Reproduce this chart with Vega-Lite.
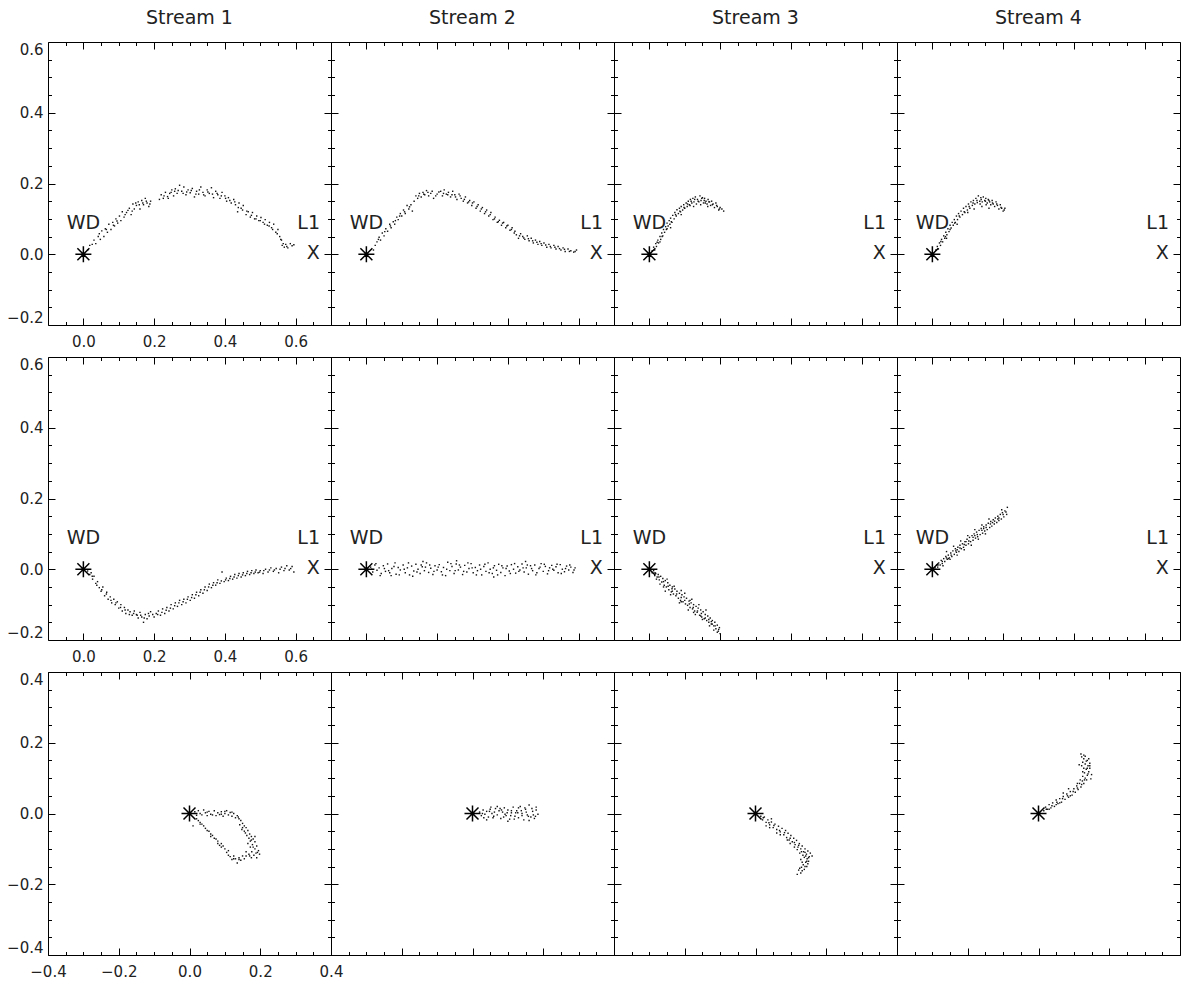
{
"$schema":"https://vega.github.io/schema/vega-lite/v6.json",
"padding":{"left":6,"top":8,"right":0,"bottom":0},
"background":"white",
"columns":4,
"spacing":{"row":32,"column":0},
"bounds":"flush",
"datasets":{
"wd":[{"x":0,"y":0}],
"lab":[{"x":0,"y":0.089,"t":"WD"},{"x":0.637,"y":0.089,"t":"L1"},{"x":0.65,"y":0.004,"t":"X"}],
"r1s1":[{"x":0.012,"y":0.012},{"x":0.018,"y":0.025},{"x":0.025,"y":0.028},{"x":0.03,"y":0.04},{"x":0.035,"y":0.03},{"x":0.042,"y":0.05},{"x":0.048,"y":0.042},{"x":0.052,"y":0.066},{"x":0.058,"y":0.05},{"x":0.062,"y":0.072},{"x":0.068,"y":0.062},{"x":0.072,"y":0.085},{"x":0.078,"y":0.07},{"x":0.083,"y":0.09},{"x":0.088,"y":0.08},{"x":0.092,"y":0.1},{"x":0.097,"y":0.088},{"x":0.102,"y":0.108},{"x":0.106,"y":0.095},{"x":0.11,"y":0.12},{"x":0.115,"y":0.105},{"x":0.122,"y":0.118},{"x":0.13,"y":0.13},{"x":0.135,"y":0.112},{"x":0.14,"y":0.142},{"x":0.144,"y":0.128},{"x":0.15,"y":0.138},{"x":0.155,"y":0.148},{"x":0.16,"y":0.128},{"x":0.165,"y":0.152},{"x":0.17,"y":0.14},{"x":0.175,"y":0.158},{"x":0.18,"y":0.145},{"x":0.185,"y":0.135},{"x":0.19,"y":0.15},{"x":0.215,"y":0.155},{"x":0.22,"y":0.168},{"x":0.226,"y":0.158},{"x":0.232,"y":0.175},{"x":0.238,"y":0.163},{"x":0.244,"y":0.172},{"x":0.25,"y":0.182},{"x":0.255,"y":0.165},{"x":0.26,"y":0.185},{"x":0.265,"y":0.172},{"x":0.272,"y":0.195},{"x":0.278,"y":0.178},{"x":0.284,"y":0.19},{"x":0.29,"y":0.168},{"x":0.296,"y":0.182},{"x":0.302,"y":0.174},{"x":0.308,"y":0.186},{"x":0.314,"y":0.162},{"x":0.32,"y":0.178},{"x":0.326,"y":0.17},{"x":0.332,"y":0.19},{"x":0.338,"y":0.175},{"x":0.344,"y":0.165},{"x":0.35,"y":0.182},{"x":0.356,"y":0.172},{"x":0.362,"y":0.188},{"x":0.368,"y":0.16},{"x":0.374,"y":0.178},{"x":0.38,"y":0.168},{"x":0.386,"y":0.158},{"x":0.392,"y":0.175},{"x":0.4,"y":0.165},{"x":0.405,"y":0.15},{"x":0.41,"y":0.16},{"x":0.418,"y":0.145},{"x":0.425,"y":0.155},{"x":0.43,"y":0.14},{"x":0.436,"y":0.12},{"x":0.44,"y":0.145},{"x":0.446,"y":0.13},{"x":0.452,"y":0.138},{"x":0.46,"y":0.112},{"x":0.466,"y":0.12},{"x":0.472,"y":0.105},{"x":0.478,"y":0.118},{"x":0.484,"y":0.1},{"x":0.49,"y":0.108},{"x":0.496,"y":0.095},{"x":0.502,"y":0.104},{"x":0.508,"y":0.09},{"x":0.514,"y":0.098},{"x":0.52,"y":0.082},{"x":0.526,"y":0.09},{"x":0.532,"y":0.075},{"x":0.538,"y":0.085},{"x":0.544,"y":0.062},{"x":0.55,"y":0.07},{"x":0.555,"y":0.05},{"x":0.56,"y":0.04},{"x":0.565,"y":0.03},{"x":0.568,"y":0.02},{"x":0.572,"y":0.028},{"x":0.578,"y":0.018},{"x":0.585,"y":0.03},{"x":0.595,"y":0.027},{"x":0.045,"y":0.058},{"x":0.065,"y":0.07},{"x":0.085,"y":0.082},{"x":0.095,"y":0.094},{"x":0.118,"y":0.112},{"x":0.126,"y":0.124},{"x":0.138,"y":0.122},{"x":0.148,"y":0.145},{"x":0.158,"y":0.14},{"x":0.168,"y":0.145},{"x":0.178,"y":0.15},{"x":0.188,"y":0.142},{"x":0.228,"y":0.165},{"x":0.24,"y":0.158},{"x":0.248,"y":0.175},{"x":0.258,"y":0.178},{"x":0.268,"y":0.18},{"x":0.282,"y":0.172},{"x":0.292,"y":0.176},{"x":0.305,"y":0.18},{"x":0.318,"y":0.17},{"x":0.328,"y":0.182},{"x":0.34,"y":0.168},{"x":0.352,"y":0.176},{"x":0.365,"y":0.17},{"x":0.378,"y":0.172},{"x":0.39,"y":0.165},{"x":0.402,"y":0.158},{"x":0.414,"y":0.152},{"x":0.428,"y":0.148},{"x":0.438,"y":0.132},{"x":0.45,"y":0.125},{"x":0.462,"y":0.122},{"x":0.475,"y":0.11},{"x":0.488,"y":0.1},{"x":0.5,"y":0.095},{"x":0.512,"y":0.085},{"x":0.525,"y":0.08},{"x":0.535,"y":0.07},{"x":0.548,"y":0.058},{"x":0.558,"y":0.042},{"x":0.562,"y":0.025},{"x":0.575,"y":0.022},{"x":0.59,"y":0.024}],
"r1s2":[{"x":0.02,"y":0.012},{"x":0.025,"y":0.025},{"x":0.03,"y":0.035},{"x":0.036,"y":0.048},{"x":0.04,"y":0.04},{"x":0.045,"y":0.06},{"x":0.05,"y":0.052},{"x":0.055,"y":0.072},{"x":0.06,"y":0.065},{"x":0.066,"y":0.085},{"x":0.07,"y":0.075},{"x":0.076,"y":0.092},{"x":0.08,"y":0.085},{"x":0.086,"y":0.105},{"x":0.09,"y":0.098},{"x":0.096,"y":0.115},{"x":0.1,"y":0.108},{"x":0.105,"y":0.125},{"x":0.11,"y":0.115},{"x":0.115,"y":0.138},{"x":0.12,"y":0.128},{"x":0.126,"y":0.14},{"x":0.13,"y":0.122},{"x":0.14,"y":0.165},{"x":0.145,"y":0.158},{"x":0.15,"y":0.172},{"x":0.155,"y":0.162},{"x":0.16,"y":0.175},{"x":0.165,"y":0.168},{"x":0.17,"y":0.18},{"x":0.176,"y":0.165},{"x":0.182,"y":0.172},{"x":0.19,"y":0.158},{"x":0.2,"y":0.17},{"x":0.21,"y":0.178},{"x":0.215,"y":0.165},{"x":0.22,"y":0.182},{"x":0.226,"y":0.17},{"x":0.232,"y":0.175},{"x":0.238,"y":0.162},{"x":0.244,"y":0.178},{"x":0.25,"y":0.168},{"x":0.256,"y":0.155},{"x":0.262,"y":0.17},{"x":0.268,"y":0.158},{"x":0.274,"y":0.15},{"x":0.28,"y":0.162},{"x":0.286,"y":0.145},{"x":0.292,"y":0.152},{"x":0.298,"y":0.138},{"x":0.304,"y":0.148},{"x":0.31,"y":0.13},{"x":0.316,"y":0.14},{"x":0.322,"y":0.122},{"x":0.328,"y":0.132},{"x":0.334,"y":0.115},{"x":0.34,"y":0.125},{"x":0.346,"y":0.108},{"x":0.352,"y":0.118},{"x":0.358,"y":0.098},{"x":0.364,"y":0.105},{"x":0.37,"y":0.09},{"x":0.376,"y":0.096},{"x":0.382,"y":0.082},{"x":0.388,"y":0.09},{"x":0.394,"y":0.075},{"x":0.4,"y":0.082},{"x":0.406,"y":0.068},{"x":0.412,"y":0.075},{"x":0.418,"y":0.06},{"x":0.424,"y":0.055},{"x":0.43,"y":0.045},{"x":0.436,"y":0.058},{"x":0.442,"y":0.05},{"x":0.448,"y":0.042},{"x":0.455,"y":0.052},{"x":0.46,"y":0.038},{"x":0.466,"y":0.045},{"x":0.472,"y":0.032},{"x":0.478,"y":0.04},{"x":0.485,"y":0.028},{"x":0.49,"y":0.036},{"x":0.496,"y":0.025},{"x":0.502,"y":0.032},{"x":0.51,"y":0.02},{"x":0.516,"y":0.028},{"x":0.522,"y":0.018},{"x":0.53,"y":0.025},{"x":0.536,"y":0.015},{"x":0.542,"y":0.022},{"x":0.55,"y":0.012},{"x":0.556,"y":0.018},{"x":0.562,"y":0.008},{"x":0.57,"y":0.015},{"x":0.578,"y":0.01},{"x":0.586,"y":0.006},{"x":0.594,"y":0.012},{"x":0.034,"y":0.042},{"x":0.052,"y":0.064},{"x":0.068,"y":0.08},{"x":0.082,"y":0.095},{"x":0.094,"y":0.108},{"x":0.108,"y":0.12},{"x":0.122,"y":0.134},{"x":0.135,"y":0.15},{"x":0.148,"y":0.165},{"x":0.162,"y":0.17},{"x":0.174,"y":0.175},{"x":0.186,"y":0.178},{"x":0.196,"y":0.165},{"x":0.205,"y":0.176},{"x":0.218,"y":0.172},{"x":0.23,"y":0.168},{"x":0.242,"y":0.168},{"x":0.252,"y":0.162},{"x":0.265,"y":0.165},{"x":0.277,"y":0.155},{"x":0.289,"y":0.148},{"x":0.3,"y":0.145},{"x":0.313,"y":0.135},{"x":0.325,"y":0.128},{"x":0.337,"y":0.12},{"x":0.35,"y":0.112},{"x":0.362,"y":0.1},{"x":0.373,"y":0.092},{"x":0.385,"y":0.088},{"x":0.397,"y":0.08},{"x":0.41,"y":0.07},{"x":0.42,"y":0.065},{"x":0.433,"y":0.052},{"x":0.445,"y":0.046},{"x":0.458,"y":0.044},{"x":0.47,"y":0.038},{"x":0.482,"y":0.034},{"x":0.494,"y":0.03},{"x":0.507,"y":0.026},{"x":0.52,"y":0.022},{"x":0.533,"y":0.02},{"x":0.546,"y":0.016},{"x":0.56,"y":0.014},{"x":0.574,"y":0.008},{"x":0.59,"y":0.008}],
"r1s3":[{"x":0.008,"y":0.01},{"x":0.012,"y":0.02},{"x":0.015,"y":0.012},{"x":0.018,"y":0.03},{"x":0.02,"y":0.022},{"x":0.024,"y":0.04},{"x":0.026,"y":0.032},{"x":0.03,"y":0.05},{"x":0.032,"y":0.042},{"x":0.035,"y":0.06},{"x":0.038,"y":0.052},{"x":0.04,"y":0.07},{"x":0.043,"y":0.062},{"x":0.046,"y":0.078},{"x":0.048,"y":0.07},{"x":0.05,"y":0.088},{"x":0.053,"y":0.08},{"x":0.056,"y":0.095},{"x":0.058,"y":0.085},{"x":0.06,"y":0.102},{"x":0.064,"y":0.09},{"x":0.066,"y":0.11},{"x":0.07,"y":0.1},{"x":0.072,"y":0.118},{"x":0.076,"y":0.108},{"x":0.078,"y":0.126},{"x":0.082,"y":0.115},{"x":0.085,"y":0.13},{"x":0.088,"y":0.12},{"x":0.09,"y":0.135},{"x":0.094,"y":0.125},{"x":0.097,"y":0.14},{"x":0.1,"y":0.13},{"x":0.104,"y":0.145},{"x":0.107,"y":0.135},{"x":0.11,"y":0.15},{"x":0.113,"y":0.14},{"x":0.116,"y":0.155},{"x":0.12,"y":0.145},{"x":0.123,"y":0.158},{"x":0.126,"y":0.148},{"x":0.13,"y":0.162},{"x":0.133,"y":0.142},{"x":0.136,"y":0.155},{"x":0.14,"y":0.148},{"x":0.143,"y":0.165},{"x":0.146,"y":0.152},{"x":0.15,"y":0.16},{"x":0.153,"y":0.145},{"x":0.156,"y":0.158},{"x":0.16,"y":0.15},{"x":0.163,"y":0.142},{"x":0.166,"y":0.155},{"x":0.17,"y":0.148},{"x":0.173,"y":0.138},{"x":0.176,"y":0.15},{"x":0.18,"y":0.142},{"x":0.184,"y":0.132},{"x":0.188,"y":0.145},{"x":0.192,"y":0.135},{"x":0.196,"y":0.125},{"x":0.2,"y":0.132},{"x":0.205,"y":0.128},{"x":0.21,"y":0.122},{"x":0.09,"y":0.112},{"x":0.06,"y":0.075},{"x":0.03,"y":0.035},{"x":0.125,"y":0.135},{"x":0.165,"y":0.135},{"x":0.022,"y":0.034},{"x":0.036,"y":0.05},{"x":0.05,"y":0.072},{"x":0.062,"y":0.092},{"x":0.074,"y":0.112},{"x":0.086,"y":0.122},{"x":0.098,"y":0.132},{"x":0.108,"y":0.142},{"x":0.118,"y":0.15},{"x":0.128,"y":0.155},{"x":0.138,"y":0.15},{"x":0.148,"y":0.158},{"x":0.158,"y":0.145},{"x":0.168,"y":0.148},{"x":0.178,"y":0.14},{"x":0.19,"y":0.138},{"x":0.198,"y":0.128},{"x":0.115,"y":0.138},{"x":0.145,"y":0.14},{"x":0.155,"y":0.152}],
"r1s4":[{"x":0.01,"y":0.012},{"x":0.014,"y":0.022},{"x":0.017,"y":0.015},{"x":0.02,"y":0.032},{"x":0.023,"y":0.025},{"x":0.026,"y":0.042},{"x":0.029,"y":0.035},{"x":0.032,"y":0.052},{"x":0.035,"y":0.045},{"x":0.038,"y":0.062},{"x":0.041,"y":0.055},{"x":0.044,"y":0.072},{"x":0.047,"y":0.064},{"x":0.05,"y":0.082},{"x":0.053,"y":0.074},{"x":0.056,"y":0.09},{"x":0.059,"y":0.082},{"x":0.062,"y":0.098},{"x":0.065,"y":0.09},{"x":0.068,"y":0.108},{"x":0.071,"y":0.098},{"x":0.074,"y":0.115},{"x":0.078,"y":0.105},{"x":0.081,"y":0.122},{"x":0.085,"y":0.112},{"x":0.088,"y":0.13},{"x":0.092,"y":0.118},{"x":0.095,"y":0.135},{"x":0.099,"y":0.125},{"x":0.102,"y":0.142},{"x":0.106,"y":0.13},{"x":0.109,"y":0.148},{"x":0.113,"y":0.138},{"x":0.116,"y":0.152},{"x":0.12,"y":0.142},{"x":0.123,"y":0.158},{"x":0.127,"y":0.146},{"x":0.13,"y":0.165},{"x":0.134,"y":0.15},{"x":0.137,"y":0.16},{"x":0.141,"y":0.148},{"x":0.144,"y":0.162},{"x":0.148,"y":0.152},{"x":0.151,"y":0.158},{"x":0.155,"y":0.145},{"x":0.158,"y":0.155},{"x":0.162,"y":0.148},{"x":0.165,"y":0.14},{"x":0.169,"y":0.152},{"x":0.172,"y":0.142},{"x":0.176,"y":0.135},{"x":0.18,"y":0.148},{"x":0.184,"y":0.138},{"x":0.188,"y":0.128},{"x":0.192,"y":0.14},{"x":0.196,"y":0.13},{"x":0.2,"y":0.122},{"x":0.205,"y":0.13},{"x":0.07,"y":0.085},{"x":0.04,"y":0.045},{"x":0.1,"y":0.118},{"x":0.14,"y":0.135},{"x":0.16,"y":0.13},{"x":0.118,"y":0.128},{"x":0.024,"y":0.036},{"x":0.037,"y":0.05},{"x":0.05,"y":0.07},{"x":0.063,"y":0.088},{"x":0.076,"y":0.108},{"x":0.09,"y":0.12},{"x":0.104,"y":0.135},{"x":0.115,"y":0.145},{"x":0.126,"y":0.152},{"x":0.138,"y":0.155},{"x":0.15,"y":0.15},{"x":0.16,"y":0.152},{"x":0.17,"y":0.145},{"x":0.182,"y":0.142},{"x":0.194,"y":0.132},{"x":0.203,"y":0.125},{"x":0.135,"y":0.142},{"x":0.152,"y":0.14}],
"r2s1":[{"x":0.012,"y":-0.005},{"x":0.018,"y":-0.015},{"x":0.022,"y":-0.01},{"x":0.026,"y":-0.028},{"x":0.03,"y":-0.02},{"x":0.035,"y":-0.04},{"x":0.04,"y":-0.035},{"x":0.045,"y":-0.052},{"x":0.05,"y":-0.062},{"x":0.055,"y":-0.05},{"x":0.06,"y":-0.075},{"x":0.066,"y":-0.065},{"x":0.07,"y":-0.085},{"x":0.076,"y":-0.078},{"x":0.08,"y":-0.095},{"x":0.086,"y":-0.085},{"x":0.09,"y":-0.1},{"x":0.096,"y":-0.092},{"x":0.1,"y":-0.11},{"x":0.106,"y":-0.1},{"x":0.11,"y":-0.118},{"x":0.116,"y":-0.108},{"x":0.12,"y":-0.125},{"x":0.126,"y":-0.115},{"x":0.132,"y":-0.12},{"x":0.138,"y":-0.13},{"x":0.144,"y":-0.118},{"x":0.15,"y":-0.128},{"x":0.155,"y":-0.138},{"x":0.16,"y":-0.122},{"x":0.165,"y":-0.135},{"x":0.17,"y":-0.15},{"x":0.175,"y":-0.128},{"x":0.18,"y":-0.14},{"x":0.186,"y":-0.132},{"x":0.19,"y":-0.12},{"x":0.2,"y":-0.135},{"x":0.206,"y":-0.125},{"x":0.212,"y":-0.118},{"x":0.218,"y":-0.13},{"x":0.224,"y":-0.112},{"x":0.23,"y":-0.125},{"x":0.236,"y":-0.108},{"x":0.242,"y":-0.118},{"x":0.248,"y":-0.1},{"x":0.254,"y":-0.112},{"x":0.26,"y":-0.095},{"x":0.266,"y":-0.105},{"x":0.272,"y":-0.088},{"x":0.278,"y":-0.1},{"x":0.284,"y":-0.085},{"x":0.29,"y":-0.095},{"x":0.296,"y":-0.078},{"x":0.302,"y":-0.088},{"x":0.308,"y":-0.072},{"x":0.314,"y":-0.082},{"x":0.32,"y":-0.065},{"x":0.326,"y":-0.075},{"x":0.332,"y":-0.058},{"x":0.338,"y":-0.068},{"x":0.344,"y":-0.05},{"x":0.35,"y":-0.06},{"x":0.356,"y":-0.042},{"x":0.362,"y":-0.052},{"x":0.368,"y":-0.038},{"x":0.374,"y":-0.045},{"x":0.38,"y":-0.03},{"x":0.386,"y":-0.04},{"x":0.392,"y":-0.008},{"x":0.398,"y":-0.035},{"x":0.404,"y":-0.025},{"x":0.41,"y":-0.032},{"x":0.416,"y":-0.02},{"x":0.422,"y":-0.028},{"x":0.428,"y":-0.015},{"x":0.434,"y":-0.025},{"x":0.44,"y":-0.012},{"x":0.446,"y":-0.022},{"x":0.452,"y":-0.01},{"x":0.458,"y":-0.018},{"x":0.464,"y":-0.006},{"x":0.47,"y":-0.015},{"x":0.476,"y":-0.004},{"x":0.482,"y":-0.012},{"x":0.488,"y":-0.002},{"x":0.494,"y":-0.01},{"x":0.5,"y":-0.004},{"x":0.508,"y":-0.012},{"x":0.515,"y":0.0},{"x":0.522,"y":-0.008},{"x":0.53,"y":0.004},{"x":0.537,"y":-0.006},{"x":0.545,"y":0.002},{"x":0.552,"y":-0.01},{"x":0.56,"y":0.006},{"x":0.567,"y":-0.004},{"x":0.575,"y":0.01},{"x":0.582,"y":-0.002},{"x":0.59,"y":0.008},{"x":0.595,"y":-0.008},{"x":0.025,"y":-0.02},{"x":0.038,"y":-0.045},{"x":0.052,"y":-0.058},{"x":0.065,"y":-0.07},{"x":0.078,"y":-0.088},{"x":0.092,"y":-0.095},{"x":0.105,"y":-0.108},{"x":0.118,"y":-0.115},{"x":0.13,"y":-0.128},{"x":0.142,"y":-0.125},{"x":0.152,"y":-0.13},{"x":0.162,"y":-0.13},{"x":0.172,"y":-0.138},{"x":0.184,"y":-0.125},{"x":0.196,"y":-0.128},{"x":0.21,"y":-0.128},{"x":0.222,"y":-0.122},{"x":0.234,"y":-0.116},{"x":0.246,"y":-0.11},{"x":0.258,"y":-0.103},{"x":0.27,"y":-0.095},{"x":0.282,"y":-0.092},{"x":0.294,"y":-0.085},{"x":0.306,"y":-0.08},{"x":0.318,"y":-0.072},{"x":0.33,"y":-0.065},{"x":0.342,"y":-0.058},{"x":0.354,"y":-0.05},{"x":0.366,"y":-0.045},{"x":0.378,"y":-0.038},{"x":0.39,"y":-0.033},{"x":0.402,"y":-0.03},{"x":0.414,"y":-0.026},{"x":0.426,"y":-0.022},{"x":0.438,"y":-0.018},{"x":0.45,"y":-0.016},{"x":0.462,"y":-0.012},{"x":0.474,"y":-0.01},{"x":0.486,"y":-0.008},{"x":0.498,"y":-0.008},{"x":0.51,"y":-0.004},{"x":0.526,"y":-0.002},{"x":0.54,"y":-0.002},{"x":0.556,"y":0.0},{"x":0.57,"y":0.002},{"x":0.586,"y":0.002}],
"r2s2":[{"x":0.012,"y":0.006},{"x":0.018,"y":-0.008},{"x":0.024,"y":0.012},{"x":0.03,"y":-0.003},{"x":0.036,"y":0.004},{"x":0.042,"y":-0.012},{"x":0.048,"y":0.01},{"x":0.054,"y":-0.006},{"x":0.06,"y":0.015},{"x":0.066,"y":-0.01},{"x":0.072,"y":0.002},{"x":0.078,"y":0.008},{"x":0.084,"y":-0.014},{"x":0.09,"y":0.005},{"x":0.096,"y":-0.002},{"x":0.104,"y":0.012},{"x":0.11,"y":-0.01},{"x":0.116,"y":0.004},{"x":0.122,"y":-0.016},{"x":0.128,"y":0.009},{"x":0.134,"y":-0.005},{"x":0.14,"y":0.014},{"x":0.146,"y":0.0},{"x":0.152,"y":-0.012},{"x":0.158,"y":0.007},{"x":0.164,"y":-0.004},{"x":0.17,"y":0.018},{"x":0.176,"y":-0.009},{"x":0.182,"y":0.003},{"x":0.188,"y":-0.015},{"x":0.194,"y":0.01},{"x":0.2,"y":-0.002},{"x":0.206,"y":0.013},{"x":0.212,"y":-0.007},{"x":0.218,"y":0.005},{"x":0.224,"y":-0.018},{"x":0.23,"y":0.02},{"x":0.236,"y":-0.004},{"x":0.242,"y":0.008},{"x":0.248,"y":-0.012},{"x":0.254,"y":0.015},{"x":0.26,"y":-0.002},{"x":0.266,"y":0.006},{"x":0.272,"y":-0.015},{"x":0.278,"y":0.011},{"x":0.284,"y":-0.008},{"x":0.29,"y":0.002},{"x":0.296,"y":0.016},{"x":0.302,"y":-0.01},{"x":0.308,"y":0.005},{"x":0.314,"y":-0.004},{"x":0.32,"y":0.012},{"x":0.326,"y":-0.016},{"x":0.332,"y":0.008},{"x":0.338,"y":-0.006},{"x":0.344,"y":0.018},{"x":0.35,"y":0.0},{"x":0.356,"y":-0.012},{"x":0.362,"y":0.01},{"x":0.368,"y":-0.003},{"x":0.374,"y":0.014},{"x":0.38,"y":-0.009},{"x":0.386,"y":0.004},{"x":0.392,"y":-0.018},{"x":0.398,"y":0.009},{"x":0.404,"y":-0.005},{"x":0.41,"y":0.013},{"x":0.416,"y":0.0},{"x":0.422,"y":-0.011},{"x":0.428,"y":0.007},{"x":0.434,"y":-0.002},{"x":0.44,"y":0.015},{"x":0.446,"y":-0.008},{"x":0.452,"y":0.004},{"x":0.458,"y":-0.014},{"x":0.464,"y":0.01},{"x":0.47,"y":-0.004},{"x":0.476,"y":0.012},{"x":0.482,"y":-0.01},{"x":0.488,"y":0.002},{"x":0.494,"y":0.016},{"x":0.5,"y":-0.006},{"x":0.506,"y":0.008},{"x":0.512,"y":-0.013},{"x":0.518,"y":0.004},{"x":0.524,"y":0.011},{"x":0.53,"y":-0.003},{"x":0.536,"y":0.007},{"x":0.542,"y":-0.01},{"x":0.548,"y":0.013},{"x":0.554,"y":0.0},{"x":0.56,"y":-0.007},{"x":0.566,"y":0.009},{"x":0.572,"y":-0.002},{"x":0.578,"y":0.006},{"x":0.584,"y":-0.009},{"x":0.59,"y":0.004},{"x":0.07,"y":-0.018},{"x":0.16,"y":0.022},{"x":0.255,"y":0.024},{"x":0.36,"y":-0.022},{"x":0.45,"y":0.022},{"x":0.015,"y":0.0},{"x":0.027,"y":0.016},{"x":0.039,"y":-0.018},{"x":0.051,"y":0.002},{"x":0.063,"y":-0.004},{"x":0.081,"y":0.018},{"x":0.093,"y":-0.016},{"x":0.107,"y":0.0},{"x":0.119,"y":0.018},{"x":0.131,"y":-0.02},{"x":0.143,"y":-0.008},{"x":0.155,"y":0.012},{"x":0.167,"y":0.006},{"x":0.179,"y":0.012},{"x":0.191,"y":-0.006},{"x":0.203,"y":0.006},{"x":0.215,"y":-0.016},{"x":0.227,"y":0.0},{"x":0.239,"y":0.016},{"x":0.251,"y":-0.004},{"x":0.263,"y":0.012},{"x":0.275,"y":-0.006},{"x":0.287,"y":0.018},{"x":0.299,"y":0.004},{"x":0.311,"y":-0.016},{"x":0.323,"y":0.0},{"x":0.335,"y":0.014},{"x":0.347,"y":-0.01},{"x":0.359,"y":0.004},{"x":0.371,"y":-0.016},{"x":0.383,"y":0.01},{"x":0.395,"y":0.002},{"x":0.407,"y":-0.012},{"x":0.419,"y":0.016},{"x":0.431,"y":-0.006},{"x":0.443,"y":0.004},{"x":0.455,"y":0.012},{"x":0.467,"y":0.002},{"x":0.479,"y":-0.016},{"x":0.491,"y":0.006},{"x":0.503,"y":0.014},{"x":0.515,"y":-0.004},{"x":0.527,"y":0.0},{"x":0.539,"y":0.014},{"x":0.551,"y":-0.012},{"x":0.563,"y":0.002},{"x":0.575,"y":0.012},{"x":0.587,"y":-0.002}],
"r2s3":[{"x":0.008,"y":-0.01},{"x":0.012,"y":-0.004},{"x":0.015,"y":-0.018},{"x":0.018,"y":-0.012},{"x":0.022,"y":-0.022},{"x":0.025,"y":-0.015},{"x":0.028,"y":-0.03},{"x":0.032,"y":-0.02},{"x":0.035,"y":-0.036},{"x":0.038,"y":-0.026},{"x":0.042,"y":-0.045},{"x":0.045,"y":-0.032},{"x":0.048,"y":-0.05},{"x":0.052,"y":-0.038},{"x":0.055,"y":-0.058},{"x":0.058,"y":-0.045},{"x":0.062,"y":-0.064},{"x":0.065,"y":-0.05},{"x":0.068,"y":-0.07},{"x":0.072,"y":-0.056},{"x":0.075,"y":-0.075},{"x":0.078,"y":-0.062},{"x":0.082,"y":-0.082},{"x":0.085,"y":-0.068},{"x":0.088,"y":-0.088},{"x":0.092,"y":-0.072},{"x":0.095,"y":-0.092},{"x":0.098,"y":-0.078},{"x":0.102,"y":-0.098},{"x":0.105,"y":-0.082},{"x":0.108,"y":-0.102},{"x":0.112,"y":-0.09},{"x":0.115,"y":-0.108},{"x":0.118,"y":-0.095},{"x":0.122,"y":-0.112},{"x":0.125,"y":-0.1},{"x":0.128,"y":-0.118},{"x":0.132,"y":-0.105},{"x":0.135,"y":-0.122},{"x":0.138,"y":-0.11},{"x":0.142,"y":-0.13},{"x":0.145,"y":-0.115},{"x":0.148,"y":-0.135},{"x":0.152,"y":-0.12},{"x":0.155,"y":-0.14},{"x":0.158,"y":-0.128},{"x":0.162,"y":-0.145},{"x":0.165,"y":-0.132},{"x":0.168,"y":-0.15},{"x":0.172,"y":-0.138},{"x":0.175,"y":-0.155},{"x":0.178,"y":-0.145},{"x":0.182,"y":-0.16},{"x":0.185,"y":-0.15},{"x":0.188,"y":-0.168},{"x":0.192,"y":-0.158},{"x":0.195,"y":-0.175},{"x":0.198,"y":-0.165},{"x":0.2,"y":-0.182},{"x":0.192,"y":-0.178},{"x":0.05,"y":-0.028},{"x":0.07,"y":-0.048},{"x":0.09,"y":-0.06},{"x":0.1,"y":-0.068},{"x":0.12,"y":-0.085},{"x":0.14,"y":-0.1},{"x":0.16,"y":-0.115},{"x":0.03,"y":-0.042},{"x":0.06,"y":-0.072},{"x":0.11,"y":-0.115},{"x":0.13,"y":-0.128},{"x":0.17,"y":-0.16},{"x":0.02,"y":-0.028},{"x":0.045,"y":-0.062},{"x":0.085,"y":-0.095},{"x":0.15,"y":-0.142},{"x":0.016,"y":-0.01},{"x":0.027,"y":-0.022},{"x":0.04,"y":-0.035},{"x":0.053,"y":-0.048},{"x":0.064,"y":-0.055},{"x":0.077,"y":-0.07},{"x":0.09,"y":-0.08},{"x":0.1,"y":-0.088},{"x":0.113,"y":-0.098},{"x":0.124,"y":-0.108},{"x":0.136,"y":-0.118},{"x":0.147,"y":-0.125},{"x":0.158,"y":-0.138},{"x":0.168,"y":-0.142},{"x":0.178,"y":-0.155},{"x":0.186,"y":-0.16},{"x":0.196,"y":-0.17},{"x":0.182,"y":-0.172},{"x":0.065,"y":-0.062},{"x":0.115,"y":-0.088},{"x":0.145,"y":-0.132},{"x":0.175,"y":-0.148},{"x":0.04,"y":-0.05},{"x":0.09,"y":-0.092},{"x":0.125,"y":-0.122}],
"r2s4":[{"x":0.008,"y":0.004},{"x":0.012,"y":0.012},{"x":0.015,"y":0.006},{"x":0.018,"y":0.018},{"x":0.022,"y":0.012},{"x":0.025,"y":0.025},{"x":0.028,"y":0.016},{"x":0.032,"y":0.03},{"x":0.035,"y":0.022},{"x":0.038,"y":0.036},{"x":0.042,"y":0.028},{"x":0.045,"y":0.04},{"x":0.048,"y":0.032},{"x":0.052,"y":0.046},{"x":0.055,"y":0.036},{"x":0.058,"y":0.052},{"x":0.062,"y":0.042},{"x":0.065,"y":0.058},{"x":0.068,"y":0.048},{"x":0.072,"y":0.062},{"x":0.075,"y":0.05},{"x":0.078,"y":0.068},{"x":0.082,"y":0.058},{"x":0.085,"y":0.072},{"x":0.088,"y":0.062},{"x":0.092,"y":0.078},{"x":0.095,"y":0.068},{"x":0.098,"y":0.085},{"x":0.102,"y":0.072},{"x":0.105,"y":0.09},{"x":0.108,"y":0.078},{"x":0.112,"y":0.095},{"x":0.115,"y":0.082},{"x":0.118,"y":0.1},{"x":0.122,"y":0.088},{"x":0.125,"y":0.105},{"x":0.128,"y":0.092},{"x":0.132,"y":0.11},{"x":0.135,"y":0.098},{"x":0.138,"y":0.115},{"x":0.142,"y":0.102},{"x":0.145,"y":0.12},{"x":0.148,"y":0.108},{"x":0.152,"y":0.125},{"x":0.155,"y":0.112},{"x":0.158,"y":0.13},{"x":0.162,"y":0.118},{"x":0.165,"y":0.135},{"x":0.168,"y":0.122},{"x":0.172,"y":0.14},{"x":0.175,"y":0.128},{"x":0.178,"y":0.145},{"x":0.182,"y":0.132},{"x":0.185,"y":0.15},{"x":0.188,"y":0.138},{"x":0.192,"y":0.155},{"x":0.195,"y":0.142},{"x":0.198,"y":0.16},{"x":0.202,"y":0.148},{"x":0.205,"y":0.165},{"x":0.21,"y":0.155},{"x":0.212,"y":0.175},{"x":0.03,"y":0.01},{"x":0.05,"y":0.028},{"x":0.07,"y":0.04},{"x":0.09,"y":0.055},{"x":0.11,"y":0.068},{"x":0.13,"y":0.085},{"x":0.15,"y":0.1},{"x":0.04,"y":0.05},{"x":0.08,"y":0.08},{"x":0.12,"y":0.112},{"x":0.16,"y":0.142},{"x":0.06,"y":0.065},{"x":0.1,"y":0.095},{"x":0.14,"y":0.125},{"x":0.016,"y":0.012},{"x":0.028,"y":0.022},{"x":0.04,"y":0.032},{"x":0.053,"y":0.04},{"x":0.066,"y":0.052},{"x":0.078,"y":0.06},{"x":0.09,"y":0.07},{"x":0.103,"y":0.08},{"x":0.115,"y":0.09},{"x":0.127,"y":0.098},{"x":0.14,"y":0.11},{"x":0.152,"y":0.118},{"x":0.164,"y":0.128},{"x":0.176,"y":0.136},{"x":0.188,"y":0.145},{"x":0.2,"y":0.155},{"x":0.208,"y":0.162},{"x":0.045,"y":0.03},{"x":0.095,"y":0.078},{"x":0.145,"y":0.115},{"x":0.185,"y":0.142},{"x":0.07,"y":0.055},{"x":0.12,"y":0.095},{"x":0.17,"y":0.132},{"x":0.196,"y":0.168}],
"r3s1":[{"x":0.015,"y":0.005},{"x":0.02,"y":-0.005},{"x":0.025,"y":0.008},{"x":0.03,"y":0.0},{"x":0.035,"y":-0.004},{"x":0.04,"y":0.01},{"x":0.045,"y":0.002},{"x":0.05,"y":-0.006},{"x":0.055,"y":0.006},{"x":0.06,"y":-0.002},{"x":0.065,"y":-0.004},{"x":0.07,"y":0.008},{"x":0.075,"y":-0.006},{"x":0.08,"y":0.002},{"x":0.085,"y":-0.003},{"x":0.09,"y":0.005},{"x":0.095,"y":-0.008},{"x":0.1,"y":0.0},{"x":0.105,"y":0.008},{"x":0.11,"y":-0.004},{"x":0.115,"y":0.003},{"x":0.12,"y":-0.008},{"x":0.125,"y":0.0},{"x":0.13,"y":-0.012},{"x":0.135,"y":-0.006},{"x":0.14,"y":-0.015},{"x":0.145,"y":-0.02},{"x":0.15,"y":-0.028},{"x":0.142,"y":-0.032},{"x":0.155,"y":-0.035},{"x":0.16,"y":-0.04},{"x":0.148,"y":-0.045},{"x":0.165,"y":-0.048},{"x":0.158,"y":-0.055},{"x":0.17,"y":-0.058},{"x":0.162,"y":-0.062},{"x":0.175,"y":-0.065},{"x":0.168,"y":-0.07},{"x":0.18,"y":-0.072},{"x":0.172,"y":-0.078},{"x":0.185,"y":-0.08},{"x":0.165,"y":-0.085},{"x":0.178,"y":-0.088},{"x":0.19,"y":-0.092},{"x":0.172,"y":-0.095},{"x":0.185,"y":-0.1},{"x":0.195,"y":-0.105},{"x":0.176,"y":-0.108},{"x":0.188,"y":-0.112},{"x":0.168,"y":-0.115},{"x":0.182,"y":-0.118},{"x":0.198,"y":-0.115},{"x":0.16,"y":-0.12},{"x":0.175,"y":-0.125},{"x":0.19,"y":-0.125},{"x":0.155,"y":-0.128},{"x":0.15,"y":-0.12},{"x":0.145,"y":-0.132},{"x":0.14,"y":-0.125},{"x":0.135,"y":-0.14},{"x":0.13,"y":-0.128},{"x":0.125,"y":-0.12},{"x":0.12,"y":-0.13},{"x":0.115,"y":-0.122},{"x":0.11,"y":-0.118},{"x":0.105,"y":-0.11},{"x":0.1,"y":-0.1},{"x":0.095,"y":-0.092},{"x":0.09,"y":-0.085},{"x":0.085,"y":-0.09},{"x":0.08,"y":-0.078},{"x":0.075,"y":-0.072},{"x":0.07,"y":-0.07},{"x":0.065,"y":-0.062},{"x":0.06,"y":-0.058},{"x":0.055,"y":-0.05},{"x":0.05,"y":-0.048},{"x":0.045,"y":-0.042},{"x":0.04,"y":-0.035},{"x":0.035,"y":-0.03},{"x":0.03,"y":-0.025},{"x":0.025,"y":-0.02},{"x":0.02,"y":-0.015},{"x":0.01,"y":-0.035},{"x":0.05,"y":0.004},{"x":0.09,"y":-0.002},{"x":0.12,"y":0.004},{"x":0.138,"y":-0.01},{"x":0.155,"y":-0.05},{"x":0.175,"y":-0.075},{"x":0.18,"y":-0.095},{"x":0.192,"y":-0.11},{"x":0.17,"y":-0.12},{"x":0.14,"y":-0.13},{"x":0.125,"y":-0.128},{"x":0.11,"y":-0.105},{"x":0.09,"y":-0.095},{"x":0.08,"y":-0.085},{"x":0.06,"y":-0.065},{"x":0.03,"y":-0.03},{"x":0.16,"y":-0.108},{"x":0.185,"y":-0.065},{"x":0.15,"y":-0.04},{"x":0.1,"y":0.006}],
"r3s2":[{"x":0.02,"y":0.004},{"x":0.025,"y":-0.006},{"x":0.03,"y":0.01},{"x":0.035,"y":-0.002},{"x":0.04,"y":0.006},{"x":0.045,"y":-0.01},{"x":0.05,"y":0.012},{"x":0.055,"y":0.0},{"x":0.06,"y":-0.008},{"x":0.065,"y":0.014},{"x":0.07,"y":-0.004},{"x":0.075,"y":0.008},{"x":0.08,"y":-0.014},{"x":0.085,"y":0.004},{"x":0.09,"y":0.016},{"x":0.095,"y":-0.006},{"x":0.1,"y":0.01},{"x":0.105,"y":-0.016},{"x":0.11,"y":0.002},{"x":0.115,"y":0.018},{"x":0.12,"y":-0.008},{"x":0.125,"y":0.008},{"x":0.13,"y":-0.012},{"x":0.135,"y":0.02},{"x":0.14,"y":0.0},{"x":0.145,"y":-0.018},{"x":0.15,"y":0.012},{"x":0.155,"y":-0.004},{"x":0.16,"y":0.024},{"x":0.165,"y":-0.01},{"x":0.17,"y":0.006},{"x":0.175,"y":-0.014},{"x":0.18,"y":0.01},{"x":0.185,"y":-0.002},{"x":0.04,"y":-0.018},{"x":0.07,"y":0.02},{"x":0.1,"y":-0.022},{"x":0.13,"y":0.016},{"x":0.16,"y":-0.02},{"x":0.18,"y":0.018},{"x":0.11,"y":0.008},{"x":0.14,"y":-0.006},{"x":0.062,"y":0.004},{"x":0.092,"y":-0.002},{"x":0.122,"y":0.002},{"x":0.152,"y":0.004},{"x":0.172,"y":-0.004},{"x":0.032,"y":-0.012},{"x":0.052,"y":0.018},{"x":0.082,"y":0.01},{"x":0.028,"y":0.0},{"x":0.058,"y":-0.012},{"x":0.078,"y":0.014},{"x":0.098,"y":0.002},{"x":0.118,"y":-0.016},{"x":0.138,"y":0.008},{"x":0.158,"y":-0.008},{"x":0.168,"y":0.014},{"x":0.178,"y":-0.008},{"x":0.048,"y":0.006},{"x":0.088,"y":-0.01},{"x":0.128,"y":0.002},{"x":0.148,"y":0.016},{"x":0.108,"y":-0.006}],
"r3s3":[{"x":0.015,"y":-0.008},{"x":0.02,"y":-0.018},{"x":0.025,"y":-0.01},{"x":0.03,"y":-0.025},{"x":0.035,"y":-0.018},{"x":0.04,"y":-0.032},{"x":0.045,"y":-0.024},{"x":0.05,"y":-0.04},{"x":0.055,"y":-0.03},{"x":0.06,"y":-0.045},{"x":0.065,"y":-0.036},{"x":0.07,"y":-0.052},{"x":0.075,"y":-0.042},{"x":0.08,"y":-0.06},{"x":0.085,"y":-0.048},{"x":0.088,"y":-0.068},{"x":0.092,"y":-0.056},{"x":0.095,"y":-0.075},{"x":0.1,"y":-0.062},{"x":0.104,"y":-0.08},{"x":0.108,"y":-0.07},{"x":0.112,"y":-0.088},{"x":0.116,"y":-0.076},{"x":0.12,"y":-0.095},{"x":0.124,"y":-0.085},{"x":0.128,"y":-0.1},{"x":0.132,"y":-0.092},{"x":0.136,"y":-0.108},{"x":0.14,"y":-0.1},{"x":0.144,"y":-0.115},{"x":0.148,"y":-0.106},{"x":0.152,"y":-0.122},{"x":0.134,"y":-0.118},{"x":0.146,"y":-0.128},{"x":0.138,"y":-0.124},{"x":0.15,"y":-0.135},{"x":0.142,"y":-0.138},{"x":0.128,"y":-0.13},{"x":0.135,"y":-0.145},{"x":0.145,"y":-0.15},{"x":0.13,"y":-0.152},{"x":0.138,"y":-0.158},{"x":0.122,"y":-0.16},{"x":0.128,"y":-0.168},{"x":0.118,"y":-0.172},{"x":0.155,"y":-0.112},{"x":0.16,"y":-0.12},{"x":0.125,"y":-0.112},{"x":0.118,"y":-0.102},{"x":0.11,"y":-0.095},{"x":0.098,"y":-0.085},{"x":0.09,"y":-0.075},{"x":0.07,"y":-0.06},{"x":0.06,"y":-0.055},{"x":0.04,"y":-0.04},{"x":0.03,"y":-0.035},{"x":0.045,"y":-0.015},{"x":0.14,"y":-0.11},{"x":0.148,"y":-0.142},{"x":0.132,"y":-0.138},{"x":0.022,"y":-0.012},{"x":0.038,"y":-0.026},{"x":0.052,"y":-0.034},{"x":0.068,"y":-0.048},{"x":0.082,"y":-0.054},{"x":0.098,"y":-0.07},{"x":0.11,"y":-0.082},{"x":0.122,"y":-0.09},{"x":0.13,"y":-0.108},{"x":0.142,"y":-0.12},{"x":0.145,"y":-0.135},{"x":0.14,"y":-0.15},{"x":0.132,"y":-0.162},{"x":0.125,"y":-0.155},{"x":0.15,"y":-0.125}],
"r3s4":[{"x":0.015,"y":0.008},{"x":0.02,"y":0.018},{"x":0.025,"y":0.012},{"x":0.03,"y":0.025},{"x":0.035,"y":0.016},{"x":0.04,"y":0.03},{"x":0.045,"y":0.02},{"x":0.05,"y":0.038},{"x":0.055,"y":0.028},{"x":0.06,"y":0.042},{"x":0.065,"y":0.032},{"x":0.07,"y":0.048},{"x":0.075,"y":0.04},{"x":0.08,"y":0.055},{"x":0.085,"y":0.046},{"x":0.09,"y":0.062},{"x":0.095,"y":0.052},{"x":0.1,"y":0.07},{"x":0.104,"y":0.06},{"x":0.108,"y":0.078},{"x":0.112,"y":0.068},{"x":0.116,"y":0.085},{"x":0.12,"y":0.075},{"x":0.124,"y":0.092},{"x":0.128,"y":0.085},{"x":0.132,"y":0.1},{"x":0.125,"y":0.105},{"x":0.138,"y":0.108},{"x":0.13,"y":0.115},{"x":0.142,"y":0.118},{"x":0.135,"y":0.125},{"x":0.145,"y":0.128},{"x":0.128,"y":0.128},{"x":0.14,"y":0.135},{"x":0.132,"y":0.14},{"x":0.145,"y":0.142},{"x":0.125,"y":0.145},{"x":0.138,"y":0.15},{"x":0.128,"y":0.155},{"x":0.122,"y":0.16},{"x":0.132,"y":0.162},{"x":0.12,"y":0.168},{"x":0.15,"y":0.11},{"x":0.148,"y":0.098},{"x":0.118,"y":0.095},{"x":0.136,"y":0.095},{"x":0.11,"y":0.085},{"x":0.09,"y":0.05},{"x":0.07,"y":0.058},{"x":0.05,"y":0.025},{"x":0.03,"y":0.012},{"x":0.115,"y":0.138},{"x":0.142,"y":0.155},{"x":0.125,"y":0.118},{"x":0.06,"y":0.03},{"x":0.085,"y":0.07},{"x":0.022,"y":0.012},{"x":0.038,"y":0.022},{"x":0.052,"y":0.032},{"x":0.068,"y":0.042},{"x":0.082,"y":0.05},{"x":0.098,"y":0.062},{"x":0.11,"y":0.072},{"x":0.122,"y":0.082},{"x":0.13,"y":0.095},{"x":0.14,"y":0.112},{"x":0.138,"y":0.128},{"x":0.135,"y":0.148},{"x":0.128,"y":0.165},{"x":0.145,"y":0.135},{"x":0.122,"y":0.135}]
},
"concat":[
{"width":283,"height":283,"title":"Stream 1","resolve":{"axis":{"x":"independent","y":"independent"}},"layer":[
{"data":{"name":"r1s1"},"mark":{"type":"square","size":2,"color":"#111","opacity":1},"encoding":{"x":{"field":"x","type":"quantitative","scale":{"domain":[-0.1,0.7]},"axis":{"orient":"bottom","values":[0,0.2,0.4,0.6],"tickSize":-7,"labels":true,"format":".1f","title":null}},"y":{"field":"y","type":"quantitative","scale":{"domain":[-0.2,0.6]},"axis":{"orient":"left","values":[-0.2,0,0.2,0.4,0.6],"tickSize":-7,"labels":true,"format":".1f","title":null}}}},
{"data":{"name":"wd"},"mark":{"type":"point","shape":"M-1,0L1,0M0,-1L0,1M-0.75,-0.75L0.75,0.75M-0.75,0.75L0.75,-0.75","size":256,"filled":false,"stroke":"#000","strokeWidth":1.5,"opacity":1},"encoding":{"x":{"field":"x","type":"quantitative","scale":{"domain":[-0.1,0.7]},"axis":{"orient":"bottom","values":[-0.05,0.05,0.1,0.15,0.25,0.3,0.35,0.45,0.5,0.55,0.65],"tickSize":-3.5,"labels":false,"title":null}},"y":{"field":"y","type":"quantitative","scale":{"domain":[-0.2,0.6]},"axis":{"orient":"left","values":[-0.15,-0.1,-0.05,0.05,0.1,0.15,0.25,0.3,0.35,0.45,0.5,0.55],"tickSize":-3.5,"labels":false,"title":null}}}},
{"data":{"name":"lab"},"mark":{"type":"text","fontSize":19,"font":"DejaVu Sans","color":"#222","baseline":"middle","align":"center"},"encoding":{"x":{"field":"x","type":"quantitative","scale":{"domain":[-0.1,0.7]},"axis":{"orient":"top","values":[0,0.2,0.4,0.6],"tickSize":-7,"labels":false,"title":null}},"y":{"field":"y","type":"quantitative","scale":{"domain":[-0.2,0.6]},"axis":{"orient":"right","values":[-0.2,0,0.2,0.4,0.6],"tickSize":-7,"labels":false,"title":null}},"text":{"field":"t"}}},
{"data":{"name":"wd"},"mark":{"type":"point","opacity":0},"encoding":{"x":{"field":"x","type":"quantitative","scale":{"domain":[-0.1,0.7]},"axis":{"orient":"top","values":[-0.05,0.05,0.1,0.15,0.25,0.3,0.35,0.45,0.5,0.55,0.65],"tickSize":-3.5,"labels":false,"title":null}},"y":{"field":"y","type":"quantitative","scale":{"domain":[-0.2,0.6]},"axis":{"orient":"right","values":[-0.15,-0.1,-0.05,0.05,0.1,0.15,0.25,0.3,0.35,0.45,0.5,0.55],"tickSize":-3.5,"labels":false,"title":null}}}}
]},
{"width":283,"height":283,"title":"Stream 2","resolve":{"axis":{"x":"independent","y":"independent"}},"layer":[
{"data":{"name":"r1s2"},"mark":{"type":"square","size":2,"color":"#111","opacity":1},"encoding":{"x":{"field":"x","type":"quantitative","scale":{"domain":[-0.1,0.7]},"axis":{"orient":"bottom","values":[0,0.2,0.4,0.6],"tickSize":-7,"labels":false,"title":null}},"y":{"field":"y","type":"quantitative","scale":{"domain":[-0.2,0.6]},"axis":{"orient":"left","values":[-0.2,0,0.2,0.4,0.6],"tickSize":-7,"labels":false,"title":null}}}},
{"data":{"name":"wd"},"mark":{"type":"point","shape":"M-1,0L1,0M0,-1L0,1M-0.75,-0.75L0.75,0.75M-0.75,0.75L0.75,-0.75","size":256,"filled":false,"stroke":"#000","strokeWidth":1.5,"opacity":1},"encoding":{"x":{"field":"x","type":"quantitative","scale":{"domain":[-0.1,0.7]},"axis":{"orient":"bottom","values":[-0.05,0.05,0.1,0.15,0.25,0.3,0.35,0.45,0.5,0.55,0.65],"tickSize":-3.5,"labels":false,"title":null}},"y":{"field":"y","type":"quantitative","scale":{"domain":[-0.2,0.6]},"axis":{"orient":"left","values":[-0.15,-0.1,-0.05,0.05,0.1,0.15,0.25,0.3,0.35,0.45,0.5,0.55],"tickSize":-3.5,"labels":false,"title":null}}}},
{"data":{"name":"lab"},"mark":{"type":"text","fontSize":19,"font":"DejaVu Sans","color":"#222","baseline":"middle","align":"center"},"encoding":{"x":{"field":"x","type":"quantitative","scale":{"domain":[-0.1,0.7]},"axis":{"orient":"top","values":[0,0.2,0.4,0.6],"tickSize":-7,"labels":false,"title":null}},"y":{"field":"y","type":"quantitative","scale":{"domain":[-0.2,0.6]},"axis":{"orient":"right","values":[-0.2,0,0.2,0.4,0.6],"tickSize":-7,"labels":false,"title":null}},"text":{"field":"t"}}},
{"data":{"name":"wd"},"mark":{"type":"point","opacity":0},"encoding":{"x":{"field":"x","type":"quantitative","scale":{"domain":[-0.1,0.7]},"axis":{"orient":"top","values":[-0.05,0.05,0.1,0.15,0.25,0.3,0.35,0.45,0.5,0.55,0.65],"tickSize":-3.5,"labels":false,"title":null}},"y":{"field":"y","type":"quantitative","scale":{"domain":[-0.2,0.6]},"axis":{"orient":"right","values":[-0.15,-0.1,-0.05,0.05,0.1,0.15,0.25,0.3,0.35,0.45,0.5,0.55],"tickSize":-3.5,"labels":false,"title":null}}}}
]},
{"width":283,"height":283,"title":"Stream 3","resolve":{"axis":{"x":"independent","y":"independent"}},"layer":[
{"data":{"name":"r1s3"},"mark":{"type":"square","size":2,"color":"#111","opacity":1},"encoding":{"x":{"field":"x","type":"quantitative","scale":{"domain":[-0.1,0.7]},"axis":{"orient":"bottom","values":[0,0.2,0.4,0.6],"tickSize":-7,"labels":false,"title":null}},"y":{"field":"y","type":"quantitative","scale":{"domain":[-0.2,0.6]},"axis":{"orient":"left","values":[-0.2,0,0.2,0.4,0.6],"tickSize":-7,"labels":false,"title":null}}}},
{"data":{"name":"wd"},"mark":{"type":"point","shape":"M-1,0L1,0M0,-1L0,1M-0.75,-0.75L0.75,0.75M-0.75,0.75L0.75,-0.75","size":256,"filled":false,"stroke":"#000","strokeWidth":1.5,"opacity":1},"encoding":{"x":{"field":"x","type":"quantitative","scale":{"domain":[-0.1,0.7]},"axis":{"orient":"bottom","values":[-0.05,0.05,0.1,0.15,0.25,0.3,0.35,0.45,0.5,0.55,0.65],"tickSize":-3.5,"labels":false,"title":null}},"y":{"field":"y","type":"quantitative","scale":{"domain":[-0.2,0.6]},"axis":{"orient":"left","values":[-0.15,-0.1,-0.05,0.05,0.1,0.15,0.25,0.3,0.35,0.45,0.5,0.55],"tickSize":-3.5,"labels":false,"title":null}}}},
{"data":{"name":"lab"},"mark":{"type":"text","fontSize":19,"font":"DejaVu Sans","color":"#222","baseline":"middle","align":"center"},"encoding":{"x":{"field":"x","type":"quantitative","scale":{"domain":[-0.1,0.7]},"axis":{"orient":"top","values":[0,0.2,0.4,0.6],"tickSize":-7,"labels":false,"title":null}},"y":{"field":"y","type":"quantitative","scale":{"domain":[-0.2,0.6]},"axis":{"orient":"right","values":[-0.2,0,0.2,0.4,0.6],"tickSize":-7,"labels":false,"title":null}},"text":{"field":"t"}}},
{"data":{"name":"wd"},"mark":{"type":"point","opacity":0},"encoding":{"x":{"field":"x","type":"quantitative","scale":{"domain":[-0.1,0.7]},"axis":{"orient":"top","values":[-0.05,0.05,0.1,0.15,0.25,0.3,0.35,0.45,0.5,0.55,0.65],"tickSize":-3.5,"labels":false,"title":null}},"y":{"field":"y","type":"quantitative","scale":{"domain":[-0.2,0.6]},"axis":{"orient":"right","values":[-0.15,-0.1,-0.05,0.05,0.1,0.15,0.25,0.3,0.35,0.45,0.5,0.55],"tickSize":-3.5,"labels":false,"title":null}}}}
]},
{"width":283,"height":283,"title":"Stream 4","resolve":{"axis":{"x":"independent","y":"independent"}},"layer":[
{"data":{"name":"r1s4"},"mark":{"type":"square","size":2,"color":"#111","opacity":1},"encoding":{"x":{"field":"x","type":"quantitative","scale":{"domain":[-0.1,0.7]},"axis":{"orient":"bottom","values":[0,0.2,0.4,0.6],"tickSize":-7,"labels":false,"title":null}},"y":{"field":"y","type":"quantitative","scale":{"domain":[-0.2,0.6]},"axis":{"orient":"left","values":[-0.2,0,0.2,0.4,0.6],"tickSize":-7,"labels":false,"title":null}}}},
{"data":{"name":"wd"},"mark":{"type":"point","shape":"M-1,0L1,0M0,-1L0,1M-0.75,-0.75L0.75,0.75M-0.75,0.75L0.75,-0.75","size":256,"filled":false,"stroke":"#000","strokeWidth":1.5,"opacity":1},"encoding":{"x":{"field":"x","type":"quantitative","scale":{"domain":[-0.1,0.7]},"axis":{"orient":"bottom","values":[-0.05,0.05,0.1,0.15,0.25,0.3,0.35,0.45,0.5,0.55,0.65],"tickSize":-3.5,"labels":false,"title":null}},"y":{"field":"y","type":"quantitative","scale":{"domain":[-0.2,0.6]},"axis":{"orient":"left","values":[-0.15,-0.1,-0.05,0.05,0.1,0.15,0.25,0.3,0.35,0.45,0.5,0.55],"tickSize":-3.5,"labels":false,"title":null}}}},
{"data":{"name":"lab"},"mark":{"type":"text","fontSize":19,"font":"DejaVu Sans","color":"#222","baseline":"middle","align":"center"},"encoding":{"x":{"field":"x","type":"quantitative","scale":{"domain":[-0.1,0.7]},"axis":{"orient":"top","values":[0,0.2,0.4,0.6],"tickSize":-7,"labels":false,"title":null}},"y":{"field":"y","type":"quantitative","scale":{"domain":[-0.2,0.6]},"axis":{"orient":"right","values":[-0.2,0,0.2,0.4,0.6],"tickSize":-7,"labels":false,"title":null}},"text":{"field":"t"}}},
{"data":{"name":"wd"},"mark":{"type":"point","opacity":0},"encoding":{"x":{"field":"x","type":"quantitative","scale":{"domain":[-0.1,0.7]},"axis":{"orient":"top","values":[-0.05,0.05,0.1,0.15,0.25,0.3,0.35,0.45,0.5,0.55,0.65],"tickSize":-3.5,"labels":false,"title":null}},"y":{"field":"y","type":"quantitative","scale":{"domain":[-0.2,0.6]},"axis":{"orient":"right","values":[-0.15,-0.1,-0.05,0.05,0.1,0.15,0.25,0.3,0.35,0.45,0.5,0.55],"tickSize":-3.5,"labels":false,"title":null}}}}
]},
{"width":283,"height":283,"resolve":{"axis":{"x":"independent","y":"independent"}},"layer":[
{"data":{"name":"r2s1"},"mark":{"type":"square","size":2,"color":"#111","opacity":1},"encoding":{"x":{"field":"x","type":"quantitative","scale":{"domain":[-0.1,0.7]},"axis":{"orient":"bottom","values":[0,0.2,0.4,0.6],"tickSize":-7,"labels":true,"format":".1f","title":null}},"y":{"field":"y","type":"quantitative","scale":{"domain":[-0.2,0.6]},"axis":{"orient":"left","values":[-0.2,0,0.2,0.4,0.6],"tickSize":-7,"labels":true,"format":".1f","title":null}}}},
{"data":{"name":"wd"},"mark":{"type":"point","shape":"M-1,0L1,0M0,-1L0,1M-0.75,-0.75L0.75,0.75M-0.75,0.75L0.75,-0.75","size":256,"filled":false,"stroke":"#000","strokeWidth":1.5,"opacity":1},"encoding":{"x":{"field":"x","type":"quantitative","scale":{"domain":[-0.1,0.7]},"axis":{"orient":"bottom","values":[-0.05,0.05,0.1,0.15,0.25,0.3,0.35,0.45,0.5,0.55,0.65],"tickSize":-3.5,"labels":false,"title":null}},"y":{"field":"y","type":"quantitative","scale":{"domain":[-0.2,0.6]},"axis":{"orient":"left","values":[-0.15,-0.1,-0.05,0.05,0.1,0.15,0.25,0.3,0.35,0.45,0.5,0.55],"tickSize":-3.5,"labels":false,"title":null}}}},
{"data":{"name":"lab"},"mark":{"type":"text","fontSize":19,"font":"DejaVu Sans","color":"#222","baseline":"middle","align":"center"},"encoding":{"x":{"field":"x","type":"quantitative","scale":{"domain":[-0.1,0.7]},"axis":{"orient":"top","values":[0,0.2,0.4,0.6],"tickSize":-7,"labels":false,"title":null}},"y":{"field":"y","type":"quantitative","scale":{"domain":[-0.2,0.6]},"axis":{"orient":"right","values":[-0.2,0,0.2,0.4,0.6],"tickSize":-7,"labels":false,"title":null}},"text":{"field":"t"}}},
{"data":{"name":"wd"},"mark":{"type":"point","opacity":0},"encoding":{"x":{"field":"x","type":"quantitative","scale":{"domain":[-0.1,0.7]},"axis":{"orient":"top","values":[-0.05,0.05,0.1,0.15,0.25,0.3,0.35,0.45,0.5,0.55,0.65],"tickSize":-3.5,"labels":false,"title":null}},"y":{"field":"y","type":"quantitative","scale":{"domain":[-0.2,0.6]},"axis":{"orient":"right","values":[-0.15,-0.1,-0.05,0.05,0.1,0.15,0.25,0.3,0.35,0.45,0.5,0.55],"tickSize":-3.5,"labels":false,"title":null}}}}
]},
{"width":283,"height":283,"resolve":{"axis":{"x":"independent","y":"independent"}},"layer":[
{"data":{"name":"r2s2"},"mark":{"type":"square","size":2,"color":"#111","opacity":1},"encoding":{"x":{"field":"x","type":"quantitative","scale":{"domain":[-0.1,0.7]},"axis":{"orient":"bottom","values":[0,0.2,0.4,0.6],"tickSize":-7,"labels":false,"title":null}},"y":{"field":"y","type":"quantitative","scale":{"domain":[-0.2,0.6]},"axis":{"orient":"left","values":[-0.2,0,0.2,0.4,0.6],"tickSize":-7,"labels":false,"title":null}}}},
{"data":{"name":"wd"},"mark":{"type":"point","shape":"M-1,0L1,0M0,-1L0,1M-0.75,-0.75L0.75,0.75M-0.75,0.75L0.75,-0.75","size":256,"filled":false,"stroke":"#000","strokeWidth":1.5,"opacity":1},"encoding":{"x":{"field":"x","type":"quantitative","scale":{"domain":[-0.1,0.7]},"axis":{"orient":"bottom","values":[-0.05,0.05,0.1,0.15,0.25,0.3,0.35,0.45,0.5,0.55,0.65],"tickSize":-3.5,"labels":false,"title":null}},"y":{"field":"y","type":"quantitative","scale":{"domain":[-0.2,0.6]},"axis":{"orient":"left","values":[-0.15,-0.1,-0.05,0.05,0.1,0.15,0.25,0.3,0.35,0.45,0.5,0.55],"tickSize":-3.5,"labels":false,"title":null}}}},
{"data":{"name":"lab"},"mark":{"type":"text","fontSize":19,"font":"DejaVu Sans","color":"#222","baseline":"middle","align":"center"},"encoding":{"x":{"field":"x","type":"quantitative","scale":{"domain":[-0.1,0.7]},"axis":{"orient":"top","values":[0,0.2,0.4,0.6],"tickSize":-7,"labels":false,"title":null}},"y":{"field":"y","type":"quantitative","scale":{"domain":[-0.2,0.6]},"axis":{"orient":"right","values":[-0.2,0,0.2,0.4,0.6],"tickSize":-7,"labels":false,"title":null}},"text":{"field":"t"}}},
{"data":{"name":"wd"},"mark":{"type":"point","opacity":0},"encoding":{"x":{"field":"x","type":"quantitative","scale":{"domain":[-0.1,0.7]},"axis":{"orient":"top","values":[-0.05,0.05,0.1,0.15,0.25,0.3,0.35,0.45,0.5,0.55,0.65],"tickSize":-3.5,"labels":false,"title":null}},"y":{"field":"y","type":"quantitative","scale":{"domain":[-0.2,0.6]},"axis":{"orient":"right","values":[-0.15,-0.1,-0.05,0.05,0.1,0.15,0.25,0.3,0.35,0.45,0.5,0.55],"tickSize":-3.5,"labels":false,"title":null}}}}
]},
{"width":283,"height":283,"resolve":{"axis":{"x":"independent","y":"independent"}},"layer":[
{"data":{"name":"r2s3"},"mark":{"type":"square","size":2,"color":"#111","opacity":1},"encoding":{"x":{"field":"x","type":"quantitative","scale":{"domain":[-0.1,0.7]},"axis":{"orient":"bottom","values":[0,0.2,0.4,0.6],"tickSize":-7,"labels":false,"title":null}},"y":{"field":"y","type":"quantitative","scale":{"domain":[-0.2,0.6]},"axis":{"orient":"left","values":[-0.2,0,0.2,0.4,0.6],"tickSize":-7,"labels":false,"title":null}}}},
{"data":{"name":"wd"},"mark":{"type":"point","shape":"M-1,0L1,0M0,-1L0,1M-0.75,-0.75L0.75,0.75M-0.75,0.75L0.75,-0.75","size":256,"filled":false,"stroke":"#000","strokeWidth":1.5,"opacity":1},"encoding":{"x":{"field":"x","type":"quantitative","scale":{"domain":[-0.1,0.7]},"axis":{"orient":"bottom","values":[-0.05,0.05,0.1,0.15,0.25,0.3,0.35,0.45,0.5,0.55,0.65],"tickSize":-3.5,"labels":false,"title":null}},"y":{"field":"y","type":"quantitative","scale":{"domain":[-0.2,0.6]},"axis":{"orient":"left","values":[-0.15,-0.1,-0.05,0.05,0.1,0.15,0.25,0.3,0.35,0.45,0.5,0.55],"tickSize":-3.5,"labels":false,"title":null}}}},
{"data":{"name":"lab"},"mark":{"type":"text","fontSize":19,"font":"DejaVu Sans","color":"#222","baseline":"middle","align":"center"},"encoding":{"x":{"field":"x","type":"quantitative","scale":{"domain":[-0.1,0.7]},"axis":{"orient":"top","values":[0,0.2,0.4,0.6],"tickSize":-7,"labels":false,"title":null}},"y":{"field":"y","type":"quantitative","scale":{"domain":[-0.2,0.6]},"axis":{"orient":"right","values":[-0.2,0,0.2,0.4,0.6],"tickSize":-7,"labels":false,"title":null}},"text":{"field":"t"}}},
{"data":{"name":"wd"},"mark":{"type":"point","opacity":0},"encoding":{"x":{"field":"x","type":"quantitative","scale":{"domain":[-0.1,0.7]},"axis":{"orient":"top","values":[-0.05,0.05,0.1,0.15,0.25,0.3,0.35,0.45,0.5,0.55,0.65],"tickSize":-3.5,"labels":false,"title":null}},"y":{"field":"y","type":"quantitative","scale":{"domain":[-0.2,0.6]},"axis":{"orient":"right","values":[-0.15,-0.1,-0.05,0.05,0.1,0.15,0.25,0.3,0.35,0.45,0.5,0.55],"tickSize":-3.5,"labels":false,"title":null}}}}
]},
{"width":283,"height":283,"resolve":{"axis":{"x":"independent","y":"independent"}},"layer":[
{"data":{"name":"r2s4"},"mark":{"type":"square","size":2,"color":"#111","opacity":1},"encoding":{"x":{"field":"x","type":"quantitative","scale":{"domain":[-0.1,0.7]},"axis":{"orient":"bottom","values":[0,0.2,0.4,0.6],"tickSize":-7,"labels":false,"title":null}},"y":{"field":"y","type":"quantitative","scale":{"domain":[-0.2,0.6]},"axis":{"orient":"left","values":[-0.2,0,0.2,0.4,0.6],"tickSize":-7,"labels":false,"title":null}}}},
{"data":{"name":"wd"},"mark":{"type":"point","shape":"M-1,0L1,0M0,-1L0,1M-0.75,-0.75L0.75,0.75M-0.75,0.75L0.75,-0.75","size":256,"filled":false,"stroke":"#000","strokeWidth":1.5,"opacity":1},"encoding":{"x":{"field":"x","type":"quantitative","scale":{"domain":[-0.1,0.7]},"axis":{"orient":"bottom","values":[-0.05,0.05,0.1,0.15,0.25,0.3,0.35,0.45,0.5,0.55,0.65],"tickSize":-3.5,"labels":false,"title":null}},"y":{"field":"y","type":"quantitative","scale":{"domain":[-0.2,0.6]},"axis":{"orient":"left","values":[-0.15,-0.1,-0.05,0.05,0.1,0.15,0.25,0.3,0.35,0.45,0.5,0.55],"tickSize":-3.5,"labels":false,"title":null}}}},
{"data":{"name":"lab"},"mark":{"type":"text","fontSize":19,"font":"DejaVu Sans","color":"#222","baseline":"middle","align":"center"},"encoding":{"x":{"field":"x","type":"quantitative","scale":{"domain":[-0.1,0.7]},"axis":{"orient":"top","values":[0,0.2,0.4,0.6],"tickSize":-7,"labels":false,"title":null}},"y":{"field":"y","type":"quantitative","scale":{"domain":[-0.2,0.6]},"axis":{"orient":"right","values":[-0.2,0,0.2,0.4,0.6],"tickSize":-7,"labels":false,"title":null}},"text":{"field":"t"}}},
{"data":{"name":"wd"},"mark":{"type":"point","opacity":0},"encoding":{"x":{"field":"x","type":"quantitative","scale":{"domain":[-0.1,0.7]},"axis":{"orient":"top","values":[-0.05,0.05,0.1,0.15,0.25,0.3,0.35,0.45,0.5,0.55,0.65],"tickSize":-3.5,"labels":false,"title":null}},"y":{"field":"y","type":"quantitative","scale":{"domain":[-0.2,0.6]},"axis":{"orient":"right","values":[-0.15,-0.1,-0.05,0.05,0.1,0.15,0.25,0.3,0.35,0.45,0.5,0.55],"tickSize":-3.5,"labels":false,"title":null}}}}
]},
{"width":283,"height":283,"resolve":{"axis":{"x":"independent","y":"independent"}},"layer":[
{"data":{"name":"r3s1"},"mark":{"type":"square","size":2,"color":"#111","opacity":1},"encoding":{"x":{"field":"x","type":"quantitative","scale":{"domain":[-0.4,0.4]},"axis":{"orient":"bottom","values":[-0.4,-0.2,0,0.2,0.4],"tickSize":-7,"labels":true,"format":".1f","title":null}},"y":{"field":"y","type":"quantitative","scale":{"domain":[-0.4,0.4]},"axis":{"orient":"left","values":[-0.4,-0.2,0,0.2,0.4],"tickSize":-7,"labels":true,"format":".1f","title":null}}}},
{"data":{"name":"wd"},"mark":{"type":"point","shape":"M-1,0L1,0M0,-1L0,1M-0.75,-0.75L0.75,0.75M-0.75,0.75L0.75,-0.75","size":256,"filled":false,"stroke":"#000","strokeWidth":1.5,"opacity":1},"encoding":{"x":{"field":"x","type":"quantitative","scale":{"domain":[-0.4,0.4]},"axis":{"orient":"bottom","values":[-0.35,-0.3,-0.25,-0.15,-0.1,-0.05,0.05,0.1,0.15,0.25,0.3,0.35],"tickSize":-3.5,"labels":false,"title":null}},"y":{"field":"y","type":"quantitative","scale":{"domain":[-0.4,0.4]},"axis":{"orient":"left","values":[-0.35,-0.3,-0.25,-0.15,-0.1,-0.05,0.05,0.1,0.15,0.25,0.3,0.35],"tickSize":-3.5,"labels":false,"title":null}}}},
{"data":{"name":"wd"},"mark":{"type":"point","opacity":0},"encoding":{"x":{"field":"x","type":"quantitative","scale":{"domain":[-0.4,0.4]},"axis":{"orient":"top","values":[-0.4,-0.2,0,0.2,0.4],"tickSize":-7,"labels":false,"title":null}},"y":{"field":"y","type":"quantitative","scale":{"domain":[-0.4,0.4]},"axis":{"orient":"right","values":[-0.4,-0.2,0,0.2,0.4],"tickSize":-7,"labels":false,"title":null}}}},
{"data":{"name":"wd"},"mark":{"type":"point","opacity":0},"encoding":{"x":{"field":"x","type":"quantitative","scale":{"domain":[-0.4,0.4]},"axis":{"orient":"top","values":[-0.35,-0.3,-0.25,-0.15,-0.1,-0.05,0.05,0.1,0.15,0.25,0.3,0.35],"tickSize":-3.5,"labels":false,"title":null}},"y":{"field":"y","type":"quantitative","scale":{"domain":[-0.4,0.4]},"axis":{"orient":"right","values":[-0.35,-0.3,-0.25,-0.15,-0.1,-0.05,0.05,0.1,0.15,0.25,0.3,0.35],"tickSize":-3.5,"labels":false,"title":null}}}}
]},
{"width":283,"height":283,"resolve":{"axis":{"x":"independent","y":"independent"}},"layer":[
{"data":{"name":"r3s2"},"mark":{"type":"square","size":2,"color":"#111","opacity":1},"encoding":{"x":{"field":"x","type":"quantitative","scale":{"domain":[-0.4,0.4]},"axis":{"orient":"bottom","values":[-0.4,-0.2,0,0.2,0.4],"tickSize":-7,"labels":false,"title":null}},"y":{"field":"y","type":"quantitative","scale":{"domain":[-0.4,0.4]},"axis":{"orient":"left","values":[-0.4,-0.2,0,0.2,0.4],"tickSize":-7,"labels":false,"title":null}}}},
{"data":{"name":"wd"},"mark":{"type":"point","shape":"M-1,0L1,0M0,-1L0,1M-0.75,-0.75L0.75,0.75M-0.75,0.75L0.75,-0.75","size":256,"filled":false,"stroke":"#000","strokeWidth":1.5,"opacity":1},"encoding":{"x":{"field":"x","type":"quantitative","scale":{"domain":[-0.4,0.4]},"axis":{"orient":"bottom","values":[-0.35,-0.3,-0.25,-0.15,-0.1,-0.05,0.05,0.1,0.15,0.25,0.3,0.35],"tickSize":-3.5,"labels":false,"title":null}},"y":{"field":"y","type":"quantitative","scale":{"domain":[-0.4,0.4]},"axis":{"orient":"left","values":[-0.35,-0.3,-0.25,-0.15,-0.1,-0.05,0.05,0.1,0.15,0.25,0.3,0.35],"tickSize":-3.5,"labels":false,"title":null}}}},
{"data":{"name":"wd"},"mark":{"type":"point","opacity":0},"encoding":{"x":{"field":"x","type":"quantitative","scale":{"domain":[-0.4,0.4]},"axis":{"orient":"top","values":[-0.4,-0.2,0,0.2,0.4],"tickSize":-7,"labels":false,"title":null}},"y":{"field":"y","type":"quantitative","scale":{"domain":[-0.4,0.4]},"axis":{"orient":"right","values":[-0.4,-0.2,0,0.2,0.4],"tickSize":-7,"labels":false,"title":null}}}},
{"data":{"name":"wd"},"mark":{"type":"point","opacity":0},"encoding":{"x":{"field":"x","type":"quantitative","scale":{"domain":[-0.4,0.4]},"axis":{"orient":"top","values":[-0.35,-0.3,-0.25,-0.15,-0.1,-0.05,0.05,0.1,0.15,0.25,0.3,0.35],"tickSize":-3.5,"labels":false,"title":null}},"y":{"field":"y","type":"quantitative","scale":{"domain":[-0.4,0.4]},"axis":{"orient":"right","values":[-0.35,-0.3,-0.25,-0.15,-0.1,-0.05,0.05,0.1,0.15,0.25,0.3,0.35],"tickSize":-3.5,"labels":false,"title":null}}}}
]},
{"width":283,"height":283,"resolve":{"axis":{"x":"independent","y":"independent"}},"layer":[
{"data":{"name":"r3s3"},"mark":{"type":"square","size":2,"color":"#111","opacity":1},"encoding":{"x":{"field":"x","type":"quantitative","scale":{"domain":[-0.4,0.4]},"axis":{"orient":"bottom","values":[-0.4,-0.2,0,0.2,0.4],"tickSize":-7,"labels":false,"title":null}},"y":{"field":"y","type":"quantitative","scale":{"domain":[-0.4,0.4]},"axis":{"orient":"left","values":[-0.4,-0.2,0,0.2,0.4],"tickSize":-7,"labels":false,"title":null}}}},
{"data":{"name":"wd"},"mark":{"type":"point","shape":"M-1,0L1,0M0,-1L0,1M-0.75,-0.75L0.75,0.75M-0.75,0.75L0.75,-0.75","size":256,"filled":false,"stroke":"#000","strokeWidth":1.5,"opacity":1},"encoding":{"x":{"field":"x","type":"quantitative","scale":{"domain":[-0.4,0.4]},"axis":{"orient":"bottom","values":[-0.35,-0.3,-0.25,-0.15,-0.1,-0.05,0.05,0.1,0.15,0.25,0.3,0.35],"tickSize":-3.5,"labels":false,"title":null}},"y":{"field":"y","type":"quantitative","scale":{"domain":[-0.4,0.4]},"axis":{"orient":"left","values":[-0.35,-0.3,-0.25,-0.15,-0.1,-0.05,0.05,0.1,0.15,0.25,0.3,0.35],"tickSize":-3.5,"labels":false,"title":null}}}},
{"data":{"name":"wd"},"mark":{"type":"point","opacity":0},"encoding":{"x":{"field":"x","type":"quantitative","scale":{"domain":[-0.4,0.4]},"axis":{"orient":"top","values":[-0.4,-0.2,0,0.2,0.4],"tickSize":-7,"labels":false,"title":null}},"y":{"field":"y","type":"quantitative","scale":{"domain":[-0.4,0.4]},"axis":{"orient":"right","values":[-0.4,-0.2,0,0.2,0.4],"tickSize":-7,"labels":false,"title":null}}}},
{"data":{"name":"wd"},"mark":{"type":"point","opacity":0},"encoding":{"x":{"field":"x","type":"quantitative","scale":{"domain":[-0.4,0.4]},"axis":{"orient":"top","values":[-0.35,-0.3,-0.25,-0.15,-0.1,-0.05,0.05,0.1,0.15,0.25,0.3,0.35],"tickSize":-3.5,"labels":false,"title":null}},"y":{"field":"y","type":"quantitative","scale":{"domain":[-0.4,0.4]},"axis":{"orient":"right","values":[-0.35,-0.3,-0.25,-0.15,-0.1,-0.05,0.05,0.1,0.15,0.25,0.3,0.35],"tickSize":-3.5,"labels":false,"title":null}}}}
]},
{"width":283,"height":283,"resolve":{"axis":{"x":"independent","y":"independent"}},"layer":[
{"data":{"name":"r3s4"},"mark":{"type":"square","size":2,"color":"#111","opacity":1},"encoding":{"x":{"field":"x","type":"quantitative","scale":{"domain":[-0.4,0.4]},"axis":{"orient":"bottom","values":[-0.4,-0.2,0,0.2,0.4],"tickSize":-7,"labels":false,"title":null}},"y":{"field":"y","type":"quantitative","scale":{"domain":[-0.4,0.4]},"axis":{"orient":"left","values":[-0.4,-0.2,0,0.2,0.4],"tickSize":-7,"labels":false,"title":null}}}},
{"data":{"name":"wd"},"mark":{"type":"point","shape":"M-1,0L1,0M0,-1L0,1M-0.75,-0.75L0.75,0.75M-0.75,0.75L0.75,-0.75","size":256,"filled":false,"stroke":"#000","strokeWidth":1.5,"opacity":1},"encoding":{"x":{"field":"x","type":"quantitative","scale":{"domain":[-0.4,0.4]},"axis":{"orient":"bottom","values":[-0.35,-0.3,-0.25,-0.15,-0.1,-0.05,0.05,0.1,0.15,0.25,0.3,0.35],"tickSize":-3.5,"labels":false,"title":null}},"y":{"field":"y","type":"quantitative","scale":{"domain":[-0.4,0.4]},"axis":{"orient":"left","values":[-0.35,-0.3,-0.25,-0.15,-0.1,-0.05,0.05,0.1,0.15,0.25,0.3,0.35],"tickSize":-3.5,"labels":false,"title":null}}}},
{"data":{"name":"wd"},"mark":{"type":"point","opacity":0},"encoding":{"x":{"field":"x","type":"quantitative","scale":{"domain":[-0.4,0.4]},"axis":{"orient":"top","values":[-0.4,-0.2,0,0.2,0.4],"tickSize":-7,"labels":false,"title":null}},"y":{"field":"y","type":"quantitative","scale":{"domain":[-0.4,0.4]},"axis":{"orient":"right","values":[-0.4,-0.2,0,0.2,0.4],"tickSize":-7,"labels":false,"title":null}}}},
{"data":{"name":"wd"},"mark":{"type":"point","opacity":0},"encoding":{"x":{"field":"x","type":"quantitative","scale":{"domain":[-0.4,0.4]},"axis":{"orient":"top","values":[-0.35,-0.3,-0.25,-0.15,-0.1,-0.05,0.05,0.1,0.15,0.25,0.3,0.35],"tickSize":-3.5,"labels":false,"title":null}},"y":{"field":"y","type":"quantitative","scale":{"domain":[-0.4,0.4]},"axis":{"orient":"right","values":[-0.35,-0.3,-0.25,-0.15,-0.1,-0.05,0.05,0.1,0.15,0.25,0.3,0.35],"tickSize":-3.5,"labels":false,"title":null}}}}
]}
],
"config":{
"view":{"stroke":"#000","strokeWidth":1},
"axis":{"domain":false,"grid":false,"tickColor":"#000","tickWidth":1,"labelFont":"DejaVu Sans","labelFontSize":15,"labelColor":"#222"},
"axisBottom":{"labelPadding":16,"labelFlush":false},
"axisLeft":{"labelPadding":12,"labelFlush":true},
"title":{"font":"DejaVu Sans","fontSize":19,"fontWeight":"normal","color":"#222","offset":14}
}
}
